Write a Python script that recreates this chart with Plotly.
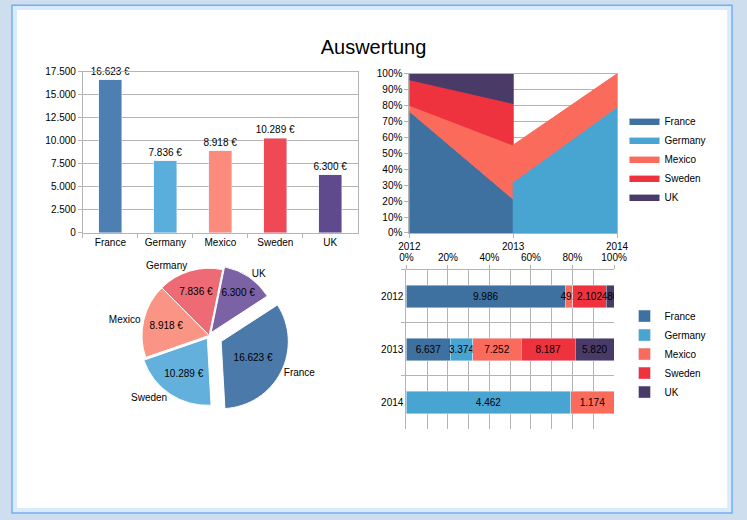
import plotly.graph_objects as go

# data
countries = ["France", "Germany", "Mexico", "Sweden", "UK"]
years = [2012, 2013, 2014]
france = [9986, 6637, None]
germany = [None, 3374, 4462]
mexico = [492, 7252, 1174]
sweden = [2102, 8187, None]
uk = [480, 5820, None]

colors = ["#3e70a0", "#48a4d0", "#fa6b5c", "#ee323e", "#4a3a68"]
bar_colors = ["#4d7fb2", "#5aaedb", "#fb8b7c", "#ee4955", "#5e4a8c"]
pie_colors = ["#4a79aa", "#ee6b75", "#fa9585", "#63b0dc", "#7b62a5"]

series = [france, germany, mexico, sweden, uk]
totals = [sum(v for v in s if v is not None) for s in series]

FONT = "Liberation Sans, Arial, sans-serif"
GRID = "#b4b4b4"

fig = go.Figure()

# --- top left: column chart of totals
fig.add_trace(go.Bar(
    x=countries, y=totals, marker_color=bar_colors, width=0.42,
    texttemplate="%{y:,.0f} €", textposition="outside", cliponaxis=False,
    textfont=dict(size=10, color="black"), showlegend=False,
    xaxis="x", yaxis="y"))

# --- top right: 100% stacked area, per-segment bands
year_tot = [sum(s[i] for s in series if s[i] is not None) for i in range(len(years))]
tops = []
for s_idx in range(len(series)):
    row = []
    for i in range(len(years)):
        if series[s_idx][i] is None:
            row.append(None)
        else:
            cum = sum(series[k][i] for k in range(s_idx + 1) if series[k][i] is not None)
            row.append(cum / year_tot[i] * 100)
    tops.append(row)

shown = set()
for i in range(len(years) - 1):
    prev = None
    for s_idx, name in enumerate(countries):
        t0, t1 = tops[s_idx][i], tops[s_idx][i + 1]
        if t0 is None or t1 is None:
            continue
        b0, b1 = (0, 0) if prev is None else (tops[prev][i], tops[prev][i + 1])
        fig.add_trace(go.Scatter(
            x=[years[i], years[i + 1], years[i + 1], years[i], years[i]],
            y=[t0, t1, b1, b0, t0],
            mode="lines", fill="toself", fillcolor=colors[s_idx],
            line=dict(color=colors[s_idx], width=1),
            name=name, legendgroup=name, legend="legend",
            legendrank=s_idx + 1, showlegend=name not in shown,
            xaxis="x2", yaxis="y2"))
        shown.add(name)
        prev = s_idx

# --- bottom right: 100% stacked horizontal bars
for s_idx, name in enumerate(countries):
    vals = series[s_idx]
    pct = [None if v is None else v / year_tot[i] * 100 for i, v in enumerate(vals)]
    fig.add_trace(go.Bar(
        y=[str(y) for y in years], x=pct, customdata=vals, orientation="h",
        name=name, marker_color=colors[s_idx], width=0.42,
        texttemplate="%{customdata:,.0f}", textposition="inside",
        insidetextanchor="middle", textangle=0,
        textfont=dict(size=10, color="black"),
        legend="legend2", xaxis="x3", yaxis="y3"))

# --- bottom left: exploded pie
pie_dom = dict(x=[0.10, 0.46], y=[0.20, 0.51])
pulls = [0.2, 0, 0, 0.05, 0.05]
fig.add_trace(go.Pie(
    labels=countries, values=totals, marker=dict(colors=pie_colors, line=dict(color="white", width=1)),
    pull=pulls, rotation=57, direction="clockwise", sort=True,
    texttemplate="%{value:,.0f} €", textposition="inside",
    textfont=dict(size=10, color="black"), domain=pie_dom,
    showlegend=False, hoverinfo="label+value"))
fig.add_trace(go.Pie(
    labels=countries, values=totals, marker=dict(colors=["rgba(0,0,0,0)"] * 5),
    pull=pulls, rotation=57, direction="clockwise", sort=True,
    texttemplate="%{label}", textposition="outside",
    textfont=dict(size=10, color="black"), domain=pie_dom,
    showlegend=False, hoverinfo="skip", automargin=False))

axis_common = dict(showline=True, linecolor=GRID, gridcolor=GRID, ticks="outside",
                   tickcolor=GRID, ticklen=4, tickfont=dict(size=10, color="black"),
                   zeroline=False, automargin=False)

fig.update_layout(
    width=747, height=520,
    margin=dict(l=0, r=0, t=0, b=0, autoexpand=False),
    paper_bgcolor="#cfdeee", plot_bgcolor="rgba(0,0,0,0)",
    font=dict(family=FONT, size=10, color="black"),
    separators=",.",
    barmode="stack",
    uniformtext=dict(mode="show", minsize=10),
    title=dict(text="Auswertung", x=0.5, xanchor="center", y=0.91, yanchor="middle",
               font=dict(size=20, color="black")),
    xaxis=dict(domain=[0.111, 0.479], anchor="y", tickson="boundaries", mirror=True,
               **axis_common, showgrid=False),
    yaxis=dict(domain=[0.552, 0.862], anchor="x", range=[0, 17500], dtick=2500,
               tickformat=",.0f", mirror=True, **axis_common),
    xaxis2=dict(domain=[0.548, 0.826], anchor="y2", range=[2012, 2014],
                tickvals=years, tickformat="d", mirror=True, showgrid=False, **axis_common),
    yaxis2=dict(domain=[0.552, 0.858], anchor="x2", range=[0, 100], dtick=10,
                ticksuffix="%", mirror=True, **axis_common),
    xaxis3=dict(domain=[0.544, 0.822], anchor="y3", side="top", range=[0, 100], dtick=20,
                ticksuffix="%", minor=dict(dtick=10, showgrid=True, gridcolor=GRID),
                **axis_common),
    yaxis3=dict(domain=[0.175, 0.481], anchor="x3", autorange="reversed",
                tickson="boundaries", **axis_common),
    legend=dict(x=0.836, y=0.795, xanchor="left", yanchor="top", font=dict(size=10),
                tracegroupgap=0, bgcolor="rgba(0,0,0,0)", itemwidth=30),
    legend2=dict(x=0.836, y=0.42, xanchor="left", yanchor="top", font=dict(size=10),
                 tracegroupgap=0, bgcolor="rgba(0,0,0,0)", traceorder="normal"),
    shapes=[
        dict(type="rect", xref="paper", yref="paper", x0=0.016, x1=0.980, y0=0.0135, y1=0.990,
             fillcolor="#d8ebfd", line=dict(color="#74aef0", width=1.5), layer="below"),
        dict(type="rect", xref="paper", yref="paper", x0=0.0228, x1=0.9735, y0=0.023, y1=0.981,
             fillcolor="white", line=dict(width=0), layer="below"),
    ],
)

# drop the default page margin so the figure sits at the window origin
fig.write_html("out.html", config={"displayModeBar": False},
               post_script="document.body.style.margin='0';")
